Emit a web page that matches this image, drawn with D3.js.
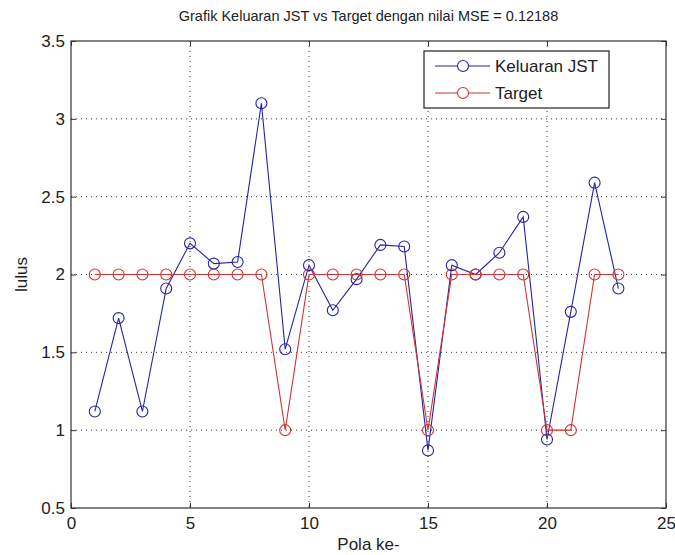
<!DOCTYPE html>
<html>
<head>
<meta charset="utf-8">
<script src="https://cdn.jsdelivr.net/npm/d3@7/dist/d3.min.js"></script>
<style>
  body { margin: 0; background: #fff; }
  text { font-family: "Liberation Sans", Arial, sans-serif; fill: #222; }
</style>
</head>
<body>
<div id="vis"></div>
<script>
// data
var pola = [1, 2, 3, 4, 5, 6, 7, 8, 9, 10, 11, 12, 13, 14, 15, 16, 17, 18, 19, 20, 21, 22, 23];
var keluaranJST = [1.12, 1.72, 1.12, 1.91, 2.20, 2.07, 2.08, 3.10, 1.52, 2.06, 1.77, 1.97,
                   2.19, 2.18, 0.87, 2.06, 2.00, 2.14, 2.37, 0.94, 1.76, 2.59, 1.91];
var target = [2, 2, 2, 2, 2, 2, 2, 2, 1, 2, 2, 2, 2, 2, 1, 2, 2, 2, 2, 1, 1, 2, 2];
var xTicks = [0, 5, 10, 15, 20, 25];
var yTicks = [0.5, 1, 1.5, 2, 2.5, 3, 3.5];
var seriesNames = ["Keluaran JST", "Target"];

var width = 675;
var height = 555;
var margin = { top: 41, right: 9, bottom: 47, left: 71 };
var blue = "#2424a4";
var red = "#d03434";

var svg = d3.select('#vis')
    .append('svg')
    .attr('width', width)
    .attr('height', height);

var w = width - margin.left - margin.right;
var h = height - margin.top - margin.bottom;

var g = svg.append('g')
    .attr('transform', 'translate(' + margin.left + ',' + margin.top + ')');

var x_scale = d3.scaleLinear().domain([0, 25]).range([0, w]);
var y_scale = d3.scaleLinear().domain([0.5, 3.5]).range([h, 0]);

// dotted grid
g.selectAll('.gx')
    .data(xTicks.slice(1, -1))
    .enter().append('line')
    .attr('x1', function(d) { return x_scale(d); })
    .attr('x2', function(d) { return x_scale(d); })
    .attr('y1', 0).attr('y2', h)
    .attr('stroke', '#333').attr('stroke-width', 1)
    .attr('stroke-dasharray', '1,4');

g.selectAll('.gy')
    .data(yTicks.slice(1, -1))
    .enter().append('line')
    .attr('y1', function(d) { return y_scale(d); })
    .attr('y2', function(d) { return y_scale(d); })
    .attr('x1', 0).attr('x2', w)
    .attr('stroke', '#333').attr('stroke-width', 1)
    .attr('stroke-dasharray', '1,4');

// axes, ticks pointing inward on all four sides
var x_axis = d3.axisBottom(x_scale).tickValues(xTicks).tickSizeInner(-5).tickSizeOuter(0).tickPadding(9);
var y_axis = d3.axisLeft(y_scale).tickValues(yTicks).tickSizeInner(-5).tickSizeOuter(0).tickPadding(6)
    .tickFormat(d3.format('~g'));

var xa = g.append('g').attr('transform', 'translate(0,' + h + ')').call(x_axis);
var ya = g.append('g').call(y_axis);
g.append('g').call(d3.axisTop(x_scale).tickValues(xTicks).tickSizeInner(-5).tickSizeOuter(0).tickFormat(''));
g.append('g').attr('transform', 'translate(' + w + ',0)')
    .call(d3.axisRight(y_scale).tickValues(yTicks).tickSizeInner(-5).tickSizeOuter(0).tickFormat(''));

g.selectAll('.domain').remove();
g.selectAll('.tick line').attr('stroke', '#333');
xa.selectAll('text').style('font-size', '17px').style('fill', '#222');
ya.selectAll('text').style('font-size', '17px').style('fill', '#222');

g.append('rect')
    .attr('width', w).attr('height', h)
    .attr('fill', 'none').attr('stroke', '#333').attr('stroke-width', 1.2);

// series
var line = d3.line()
    .x(function(d) { return x_scale(d[0]); })
    .y(function(d) { return y_scale(d[1]); });

function drawSeries(values, colour) {
    var pts = pola.map(function(p, i) { return [p, values[i]]; });
    g.append('path').datum(pts)
        .attr('d', line)
        .attr('fill', 'none').attr('stroke', colour).attr('stroke-width', 1.1);
    g.selectAll(null).data(pts).enter().append('circle')
        .attr('cx', function(d) { return x_scale(d[0]); })
        .attr('cy', function(d) { return y_scale(d[1]); })
        .attr('r', 5.5)
        .attr('fill', 'none').attr('stroke', colour).attr('stroke-width', 1.1);
}
drawSeries(keluaranJST, blue);
drawSeries(target, red);

// legend
var lg = svg.append('g').attr('transform', 'translate(424,51)');
lg.append('rect').attr('width', 185).attr('height', 57)
    .attr('fill', '#fff').attr('stroke', '#222').attr('stroke-width', 1.2);
var colours = [blue, red];
seriesNames.forEach(function(name, i) {
    var yy = 15 + i * 27;
    lg.append('line').attr('x1', 11).attr('x2', 66).attr('y1', yy).attr('y2', yy)
        .attr('stroke', colours[i]).attr('stroke-width', 1.1);
    lg.append('circle').attr('cx', 39).attr('cy', yy).attr('r', 5.5)
        .attr('fill', '#fff').attr('stroke', colours[i]).attr('stroke-width', 1.1);
    lg.append('text').attr('x', 71).attr('y', yy + 6)
        .style('font-size', '17px').text(name);
});

// labels
svg.append('text')
    .attr('x', margin.left + w / 2).attr('y', 21)
    .attr('text-anchor', 'middle').style('font-size', '14.5px')
    .text('Grafik Keluaran JST vs Target dengan nilai MSE = 0.12188');

svg.append('text')
    .attr('x', margin.left + w / 2).attr('y', 550)
    .attr('text-anchor', 'middle').style('font-size', '17px')
    .text('Pola ke-');

svg.append('text')
    .attr('transform', 'translate(27,' + (margin.top + h / 2) + ') rotate(-90)')
    .attr('text-anchor', 'middle').style('font-size', '17px')
    .text('lulus');
</script>
</body>
</html>
